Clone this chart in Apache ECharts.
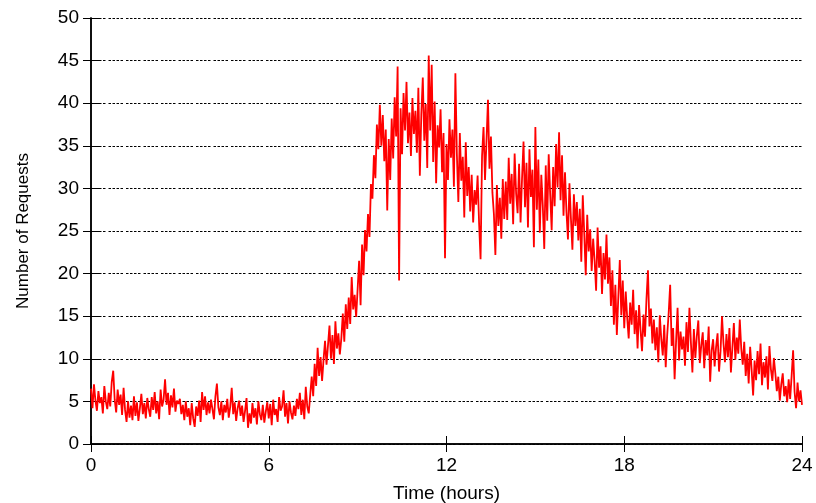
<!DOCTYPE html>
<html>
<head>
<meta charset="utf-8">
<script src="https://cdn.jsdelivr.net/npm/echarts@6/dist/echarts.min.js"></script>
<style>
html,body{margin:0;padding:0;background:#fff;}
#chart{width:816px;height:503px;}
</style>
</head>
<body>
<div id="chart"></div>
<script>
// Sampling step in hours (3-minute samples, 20 per hour)
const stepHours = 0.05;
const xTicks = [0, 6, 12, 18, 24];
const yTicks = [0, 5, 10, 15, 20, 25, 30, 35, 40, 45, 50];

// Number of requests, read hour by hour from the picture
const h00 = [6.5,4.2,7.0,5.1,3.9,6.2,4.8,5.5,3.6,6.8,5.0,4.1,6.0,4.4,7.3,8.6,5.2,3.7,6.4,4.6];
const h01 = [5.8,3.4,6.6,4.0,2.6,5.0,3.1,4.5,2.8,5.6,3.3,4.9,2.7,4.2,5.9,3.5,4.8,3.0,5.4,4.1];
const h02 = [3.2,5.5,4.0,6.1,3.6,5.0,2.9,6.4,4.4,5.2,7.6,4.6,6.0,3.4,5.7,4.3,6.5,3.8,5.1,4.7];
const h03 = [5.3,3.5,4.6,2.8,5.0,3.2,4.2,2.2,4.8,3.0,2.0,4.4,3.3,5.1,2.6,6.1,4.0,5.6,3.4,4.9];
const h04 = [3.6,5.2,4.1,2.9,5.6,7.1,4.3,3.4,5.0,2.8,4.6,3.7,5.3,3.1,4.4,6.6,3.5,4.9,2.7,4.2];
const h05 = [5.1,3.3,4.5,2.6,3.9,5.4,1.9,3.6,2.4,4.8,3.1,4.2,2.3,5.0,3.5,2.8,4.6,2.5,3.8,4.9];
const h06 = [3.0,4.7,2.2,5.2,3.4,4.1,2.6,5.5,3.9,4.4,6.3,3.2,4.8,2.4,5.0,3.7,2.9,4.5,3.3,5.3];
const h07 = [4.1,6.0,3.4,5.2,2.9,6.7,4.4,3.6,5.8,7.9,5.6,9.4,6.8,11.3,8.0,10.2,7.4,9.9,12.1,9.3];
const h08 = [11.6,13.9,10.0,12.8,9.4,14.4,11.2,13.0,10.5,12.4,15.3,12.0,16.4,13.5,17.2,14.1,19.6,15.8,17.5,14.9];
const h09 = [18.2,21.5,16.3,23.4,19.8,25.1,22.6,27.0,24.3,30.5,28.8,33.9,31.2,37.5,34.6,39.8,35.0,38.6,33.2,36.9];
const h10 = [27.4,35.8,31.0,38.2,33.5,40.7,36.1,44.3,19.2,39.4,34.0,41.2,36.8,42.5,35.3,38.9,33.8,40.6,36.4,39.1];
const h11 = [34.2,41.8,31.5,38.7,43.0,35.6,39.9,32.4,45.6,36.8,44.5,33.1,40.2,30.6,37.4,34.8,39.3,31.9,36.5,21.8];
const h12 = [35.2,31.0,38.1,33.6,36.9,30.2,43.5,34.0,28.4,36.5,30.9,33.7,26.6,35.4,29.1,32.5,27.3,31.6,26.0,29.8];
const h13 = [28.1,31.5,25.9,21.7,33.8,37.2,31.0,35.6,40.4,32.3,36.1,29.5,27.0,22.2,30.4,25.6,28.9,24.1,31.1,26.4];
const h14 = [30.8,26.3,33.6,28.2,31.7,25.8,34.1,29.4,27.1,32.9,26.0,31.2,35.5,27.8,33.0,25.4,34.6,29.0,32.2,23.1];
const h15 = [37.2,27.5,33.4,24.8,31.6,28.0,22.9,32.7,26.2,34.0,29.3,25.1,32.5,27.9,35.2,30.1,36.6,28.6,33.9,26.8];
const h16 = [31.9,27.2,24.0,30.6,26.5,22.8,29.3,25.6,28.4,23.9,27.6,21.4,29.2,24.7,19.8,26.9,22.6,25.2,20.3,24.1];
const h17 = [21.5,18.0,25.4,20.7,23.2,17.6,22.4,19.3,24.6,18.8,21.9,16.2,20.4,14.0,18.7,12.8,17.3,21.6,15.1,19.2];
const h18 = [13.6,17.9,14.8,12.4,16.6,14.0,18.1,12.9,15.7,11.2,16.3,13.4,10.9,15.2,12.6,17.0,20.4,13.8,15.9,11.8];
const h19 = [14.6,11.0,13.7,9.6,15.1,12.3,10.4,14.0,9.0,12.8,15.4,18.7,11.5,13.6,7.6,12.1,16.0,9.8,13.2,11.1];
const h20 = [12.6,9.2,14.3,10.8,16.0,11.9,8.4,13.5,10.1,12.7,14.5,9.5,11.6,13.1,8.9,12.2,10.4,13.8,7.3,11.0];
const h21 = [12.3,9.1,11.4,13.0,8.5,10.9,15.0,11.8,9.6,12.9,10.2,13.6,8.4,11.3,14.2,9.9,12.5,10.6,14.6,11.2];
const h22 = [9.3,12.0,8.0,10.6,7.1,11.4,8.7,5.7,9.8,7.5,10.9,8.2,11.8,6.9,9.6,7.8,10.3,6.4,11.5,8.8];
const h23 = [7.4,10.1,8.3,6.2,7.9,5.1,7.0,8.3,5.6,6.8,4.9,7.6,5.3,8.0,11.0,6.1,4.2,7.2,5.0,6.3];
const h24 = [4.6];

const requests = [].concat(h00,h01,h02,h03,h04,h05,h06,h07,h08,h09,h10,h11,
  h12,h13,h14,h15,h16,h17,h18,h19,h20,h21,h22,h23,h24);
const seriesData = requests.map((v, i) => [+(i * stepHours).toFixed(2), v]);

const FONT = 'Liberation Sans, Arial, sans-serif';
const chart = echarts.init(document.getElementById('chart'), null, {renderer: 'canvas'});

const frameLine = {show: true, lineStyle: {color: '#000', width: 1.5}};
const dash = [2.5, 1.5, 2.5, 1.5, 2.5, 1.5, 2.5, 3];

chart.setOption({
  animation: false,
  backgroundColor: '#fff',
  grid: {left: 91, right: 14, top: 18, bottom: 59, containLabel: false, outerBoundsMode: 'none'},
  xAxis: [{
    type: 'value', min: xTicks[0], max: xTicks[xTicks.length - 1], interval: 6,
    position: 'bottom',
    name: 'Time (hours)', nameLocation: 'middle', nameGap: 40,
    nameTextStyle: {fontFamily: FONT, fontSize: 19, color: '#000'},
    axisLine: frameLine,
    axisTick: {show: true, inside: true, length: 8, lineStyle: {color: '#000', width: 1}},
    axisLabel: {fontFamily: FONT, fontSize: 19, color: '#000', margin: 12},
    splitLine: {show: false}
  }, {
    type: 'value', min: 0, max: 24, interval: 6, position: 'top',
    axisLine: frameLine,
    axisTick: {show: true, inside: true, length: 8, lineStyle: {color: '#000', width: 1}},
    axisLabel: {show: false}, splitLine: {show: false}
  }],
  yAxis: [{
    type: 'value', min: yTicks[0], max: yTicks[yTicks.length - 1], interval: 5,
    position: 'left',
    name: 'Number of Requests', nameLocation: 'middle', nameGap: 59,
    nameTextStyle: {fontFamily: FONT, fontSize: 17, color: '#000'},
    axisLine: frameLine,
    axisTick: {show: true, inside: true, length: 8, lineStyle: {color: '#000', width: 1}},
    axisLabel: {fontFamily: FONT, fontSize: 19, color: '#000', margin: 12},
    splitLine: {show: true, lineStyle: {color: '#000', width: 1, type: dash}}
  }, {
    type: 'value', min: 0, max: 50, interval: 5, position: 'right',
    axisLine: frameLine,
    axisTick: {show: true, inside: true, length: 8, lineStyle: {color: '#000', width: 1}},
    axisLabel: {show: false}, splitLine: {show: false}
  }],
  series: [{
    type: 'line',
    xAxisIndex: 0, yAxisIndex: 0,
    data: seriesData,
    showSymbol: false,
    symbol: 'none',
    lineStyle: {color: '#ff0000', width: 1.8},
    itemStyle: {color: '#ff0000'},
    z: 3
  }]
});
</script>
</body>
</html>
